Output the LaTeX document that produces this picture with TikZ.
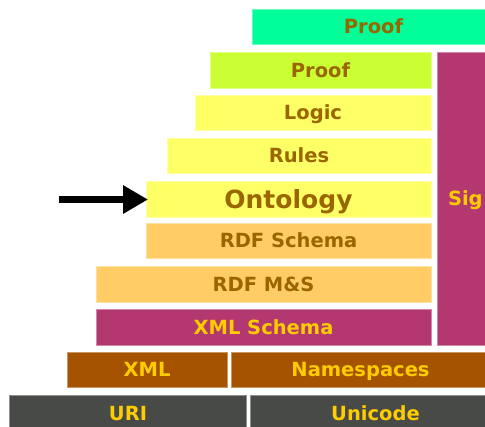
\documentclass[tikz,border=0pt]{standalone}
\usepackage{fontspec}
\setmainfont{DejaVu Sans}
\usetikzlibrary{arrows.meta}
\definecolor{cGreen}{RGB}{0,255,153}
\definecolor{cLime}{RGB}{204,255,51}
\definecolor{cYellow}{RGB}{255,255,102}
\definecolor{cOrange}{RGB}{255,204,102}
\definecolor{cMag}{RGB}{179,56,112}
\definecolor{cBrown}{RGB}{166,83,0}
\definecolor{cGray}{RGB}{71,74,70}
\definecolor{tBrown}{RGB}{153,102,0}
\definecolor{tYellow}{RGB}{255,204,0}
\tikzset{
  box/.style={rectangle, inner sep=0pt, outer sep=0pt, line width=1bp,
    font=\fontsize{19.5bp}{22bp}\selectfont\bfseries, text height=14bp, text depth=0pt},
  light/.style={box, text=tBrown},
  dark/.style={box, text=tYellow},
  green/.style={light, fill=cGreen, draw=cGreen!60!white},
  lime/.style={light, fill=cLime, draw=cLime!60!white},
  yel/.style={light, fill=cYellow, draw=cYellow!60!white},
  ora/.style={light, fill=cOrange, draw=cOrange!60!white},
  mag/.style={dark, fill=cMag, draw=cMag!60!white},
  brn/.style={dark, fill=cBrown, draw=cBrown!60!white},
  gry/.style={dark, fill=cGray, draw=cGray!60!white},
  bigarrow/.style={line width=7bp, -{Triangle[length=25bp,width=27bp]}}
}
\begin{document}
\begin{tikzpicture}[x=1bp,y=-1bp]
\useasboundingbox (0,0) rectangle (485,426);
\clip (0,0) rectangle (485,426);
\node[green, minimum width=243bp, minimum height=35bp] (prooftop) at (373.5,26.5) {Proof};
\node[lime, minimum width=221bp, minimum height=36bp] (proof) at (320.5,70) {Proof};
\node[yel, minimum width=236bp, minimum height=35bp] (logic) at (313,112.5) {Logic};
\node[yel, minimum width=264bp, minimum height=35bp] (rules) at (299,155.5) {Rules};
\node[yel, minimum width=285bp, minimum height=36bp, font=\fontsize{25bp}{28bp}\selectfont\bfseries, text height=18.5bp] (onto) at (288.5,199.5) {Ontology};
\node[ora, minimum width=285bp, minimum height=35bp] (rdfs) at (288.5,240.5) {RDF Schema};
\node[ora, minimum width=335bp, minimum height=36bp] (rdfms) at (263.5,284) {RDF M\&S};
\node[mag, minimum width=335bp, minimum height=36bp] (xmls) at (263.5,327) {XML Schema};
\node[mag, minimum width=100bp, minimum height=293bp, anchor=west] (sig) at (437,198.5) {};
\node[box, text=tYellow, anchor=west] (sigtext) at (448,198.5) {Sig};
\node[brn, minimum width=160bp, minimum height=35bp] (xml) at (147,369.5) {XML};
\node[brn, minimum width=259bp, minimum height=35bp] (ns) at (360.5,369.5) {Namespaces};
\node[gry, minimum width=236bp, minimum height=36bp] (uri) at (128,413) {URI};
\node[gry, minimum width=251bp, minimum height=36bp] (unicode) at (375.5,413) {Unicode};
\coordinate (astart) at (59,199.5);
\draw[bigarrow] (astart) -- ([xshift=2bp]onto.west);
\end{tikzpicture}
\end{document}
